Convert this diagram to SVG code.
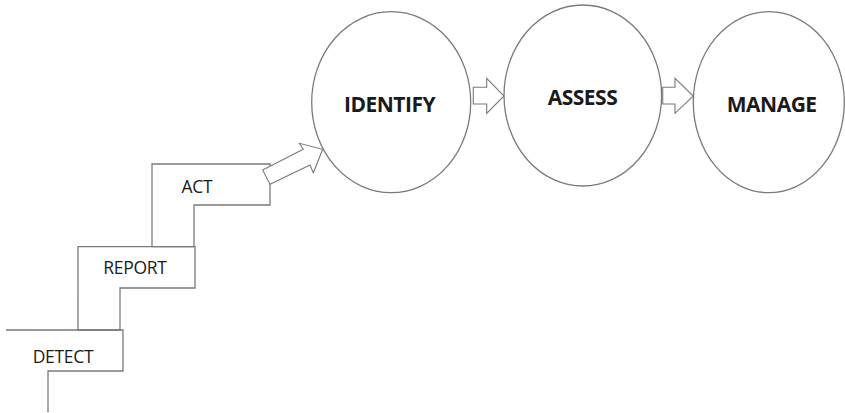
<svg xmlns="http://www.w3.org/2000/svg" width="845" height="413" viewBox="0 0 845 413">
<style>
.ln{fill:none;stroke:#7a7a7a;stroke-width:1.3;stroke-linejoin:miter}
.sh{fill:#fff;stroke:#7a7a7a;stroke-width:1.1}
.big{font-family:"Open Sans","Liberation Sans",sans-serif;font-weight:bold;font-size:21px;letter-spacing:-0.5px;fill:#1a1a1a;text-anchor:middle}
.sm{font-family:"Open Sans","Liberation Sans",sans-serif;font-size:17.5px;letter-spacing:-0.3px;fill:#1a1a1a;text-anchor:middle}
</style>
<rect width="845" height="413" fill="#fff"/>
<g id="detect">
<path class="ln" d="M6,330 H123 V371 H48 V412"/>
<text class="sm" x="63" y="363.3">DETECT</text>
</g>
<g id="report">
<path class="ln" d="M120,330 H78 V246.7 H195 V288 H120 Z"/>
<text class="sm" x="135" y="274.3">REPORT</text>
</g>
<g id="act">
<path class="ln" d="M194,246.7 H152 V164 H270 V205 H194 Z"/>
<text class="sm" x="197" y="192.7">ACT</text>
</g>
<g id="identify">
<ellipse class="ln" cx="391.2" cy="102.2" rx="79.5" ry="90.5"/>
<text class="big" x="389.5" y="111.7">IDENTIFY</text>
</g>
<g id="assess">
<ellipse class="ln" cx="582.8" cy="95.5" rx="78.8" ry="90.5"/>
<text class="big" x="582.5" y="105">ASSESS</text>
</g>
<g id="manage">
<ellipse class="ln" cx="768.8" cy="102.2" rx="75.5" ry="90.5"/>
<text class="big" x="771.7" y="111.7">MANAGE</text>
</g>
<g id="connectors">
<polygon class="sh" points="262.7,170 303.3,149.3 299.3,143.3 322.7,149.3 313.3,172.7 310,165 270,184.3"/>
<polygon class="sh" points="473.3,87.3 486.7,87.3 486.7,78.3 504,96 486.7,113.3 486.7,104 473.3,104"/>
<polygon class="sh" points="662.7,87.3 675,87.3 675,78.3 693.3,96 675,113.3 675,104 662.7,104"/>
</g>
</svg>
